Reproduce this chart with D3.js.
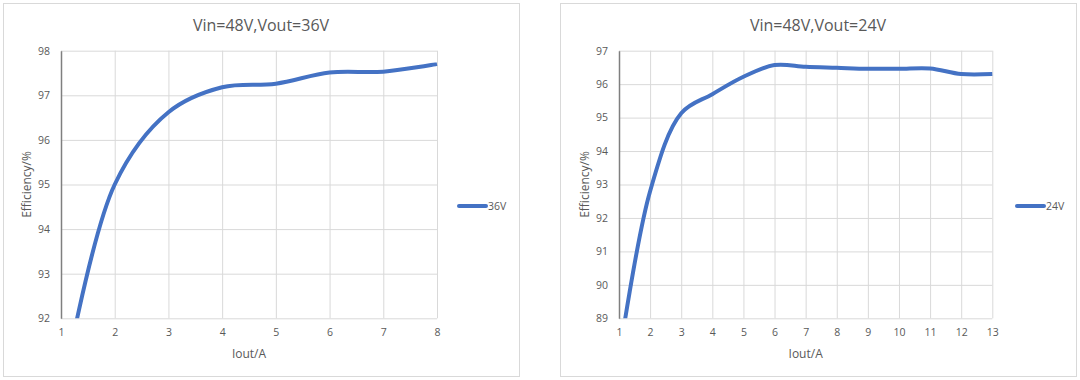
<!DOCTYPE html>
<html>
<head>
<meta charset="utf-8">
<script src="https://cdn.jsdelivr.net/npm/d3@7"></script>
<style>
  html, body { margin: 0; padding: 0; background: #ffffff; }
  svg { display: block; }
  text { font-family: "Open Sans", "Noto Sans", sans-serif; fill: #595959; }
</style>
</head>
<body>
<svg id="chart" width="1080" height="380"></svg>
<script>
// ---- Data ----
const chart1Title = "Vin=48V,Vout=36V";
const chart1Series = "36V";
const chart1Iout = [1, 2, 3, 4, 5, 6, 7, 8];
const chart1Eff = [90.2, 95.0, 96.62, 97.18, 97.26, 97.51, 97.53, 97.70];
const chart1XTicks = [1, 2, 3, 4, 5, 6, 7, 8];
const chart1YTicks = [92, 93, 94, 95, 96, 97, 98];

const chart2Title = "Vin=48V,Vout=24V";
const chart2Series = "24V";
const chart2Iout = [1, 2, 3, 4, 5, 6, 7, 8, 9, 10, 11, 12, 13];
const chart2Eff = [87.8, 92.8, 95.13, 95.70, 96.22, 96.57, 96.52, 96.49, 96.46, 96.46, 96.47, 96.30, 96.30];
const chart2XTicks = [1, 2, 3, 4, 5, 6, 7, 8, 9, 10, 11, 12, 13];
const chart2YTicks = [89, 90, 91, 92, 93, 94, 95, 96, 97];

const xLabel = "Iout/A";
const yLabel = "Efficiency/%";

// ---- Drawing ----
const svg = d3.select("#chart");
const lineColor = "#4472C4";

function drawChart(opts) {
  const { id, box, plot, title, series, xs, ys, xTicks, yTicks, legendX } = opts;
  const g = svg.append("g");

  g.append("rect")
    .attr("x", box.x + 0.5).attr("y", box.y + 0.5)
    .attr("width", box.w).attr("height", box.h)
    .attr("fill", "#ffffff").attr("stroke", "#d9d9d9").attr("stroke-width", 1);

  const x = d3.scaleLinear().domain(d3.extent(xTicks)).range([plot.left, plot.right]);
  const y = d3.scaleLinear().domain(d3.extent(yTicks)).range([plot.bottom, plot.top]);

  // gridlines
  const xGrid = g.append("g").attr("transform", `translate(0,${plot.bottom})`)
    .call(d3.axisBottom(x).tickValues(xTicks).tickSize(-(plot.bottom - plot.top)).tickFormat(""));
  xGrid.select(".domain").remove();
  xGrid.selectAll("line").attr("stroke", "#d9d9d9");

  const yGrid = g.append("g").attr("transform", `translate(${plot.left},0)`)
    .call(d3.axisLeft(y).tickValues(yTicks).tickSize(-(plot.right - plot.left)).tickFormat(""));
  yGrid.select(".domain").remove();
  yGrid.selectAll("line").attr("stroke", "#d9d9d9");

  // x tick labels
  const xAxis = g.append("g").attr("transform", `translate(0,${plot.bottom})`)
    .call(d3.axisBottom(x).tickValues(xTicks).tickSize(0).tickPadding(10).tickFormat(d3.format("d")));
  xAxis.select(".domain").remove();
  xAxis.selectAll("text").attr("font-size", 10.5).attr("fill", "#595959")
    .style("font-family", '"Open Sans", sans-serif');

  // y axis
  const yAxis = g.append("g").attr("transform", `translate(${plot.left},0)`)
    .call(d3.axisLeft(y).tickValues(yTicks).tickSize(0).tickPadding(11).tickFormat(d3.format("d")));
  yAxis.select(".domain").attr("stroke", "#7f7f7f").attr("stroke-width", 1.5);
  yAxis.selectAll("text").attr("font-size", 10.5).attr("fill", "#595959")
    .style("font-family", '"Open Sans", sans-serif');

  // clip
  g.append("clipPath").attr("id", "clip" + id)
    .append("rect")
    .attr("x", plot.left).attr("y", plot.top - 4)
    .attr("width", plot.right - plot.left + 3).attr("height", plot.bottom - plot.top + 4);

  const data = xs.map((v, i) => [v, ys[i]]);
  const line = d3.line()
    .x(d => x(d[0])).y(d => y(d[1]))
    .curve(d3.curveCatmullRom.alpha(0.5));

  g.append("path")
    .datum(data)
    .attr("clip-path", `url(#clip${id})`)
    .attr("d", line)
    .attr("fill", "none")
    .attr("stroke", lineColor)
    .attr("stroke-width", 4)
    .attr("stroke-linejoin", "round");

  // title
  g.append("text")
    .attr("x", box.x + box.w / 2).attr("y", 25)
    .attr("text-anchor", "middle").attr("dominant-baseline", "central")
    .attr("font-size", 16).text(title);

  // axis titles
  g.append("text")
    .attr("x", (plot.left + plot.right) / 2).attr("y", 353)
    .attr("text-anchor", "middle").attr("dominant-baseline", "central")
    .attr("font-size", 12).text(xLabel);

  g.append("text")
    .attr("transform", `translate(${plot.left - 35},${(plot.top + plot.bottom) / 2}) rotate(-90)`)
    .attr("text-anchor", "middle").attr("dominant-baseline", "central")
    .attr("font-size", 12).text(yLabel);

  // legend
  const ly = 206;
  g.append("line")
    .attr("x1", legendX).attr("x2", legendX + 27)
    .attr("y1", ly).attr("y2", ly)
    .attr("stroke", lineColor).attr("stroke-width", 4).attr("stroke-linecap", "round");
  g.append("text")
    .attr("x", legendX + 29).attr("y", ly)
    .attr("dominant-baseline", "central")
    .attr("font-size", 10.5).text(series);
}

drawChart({
  id: 1,
  box: { x: 3, y: 3, w: 516, h: 373 },
  plot: { left: 61, right: 437, top: 50.7, bottom: 318.3 },
  title: chart1Title, series: chart1Series,
  xs: chart1Iout, ys: chart1Eff, xTicks: chart1XTicks, yTicks: chart1YTicks,
  legendX: 459
});

drawChart({
  id: 2,
  box: { x: 560, y: 3, w: 516, h: 373 },
  plot: { left: 619, right: 992.3, top: 50.7, bottom: 318.3 },
  title: chart2Title, series: chart2Series,
  xs: chart2Iout, ys: chart2Eff, xTicks: chart2XTicks, yTicks: chart2YTicks,
  legendX: 1017
});
</script>
</body>
</html>
